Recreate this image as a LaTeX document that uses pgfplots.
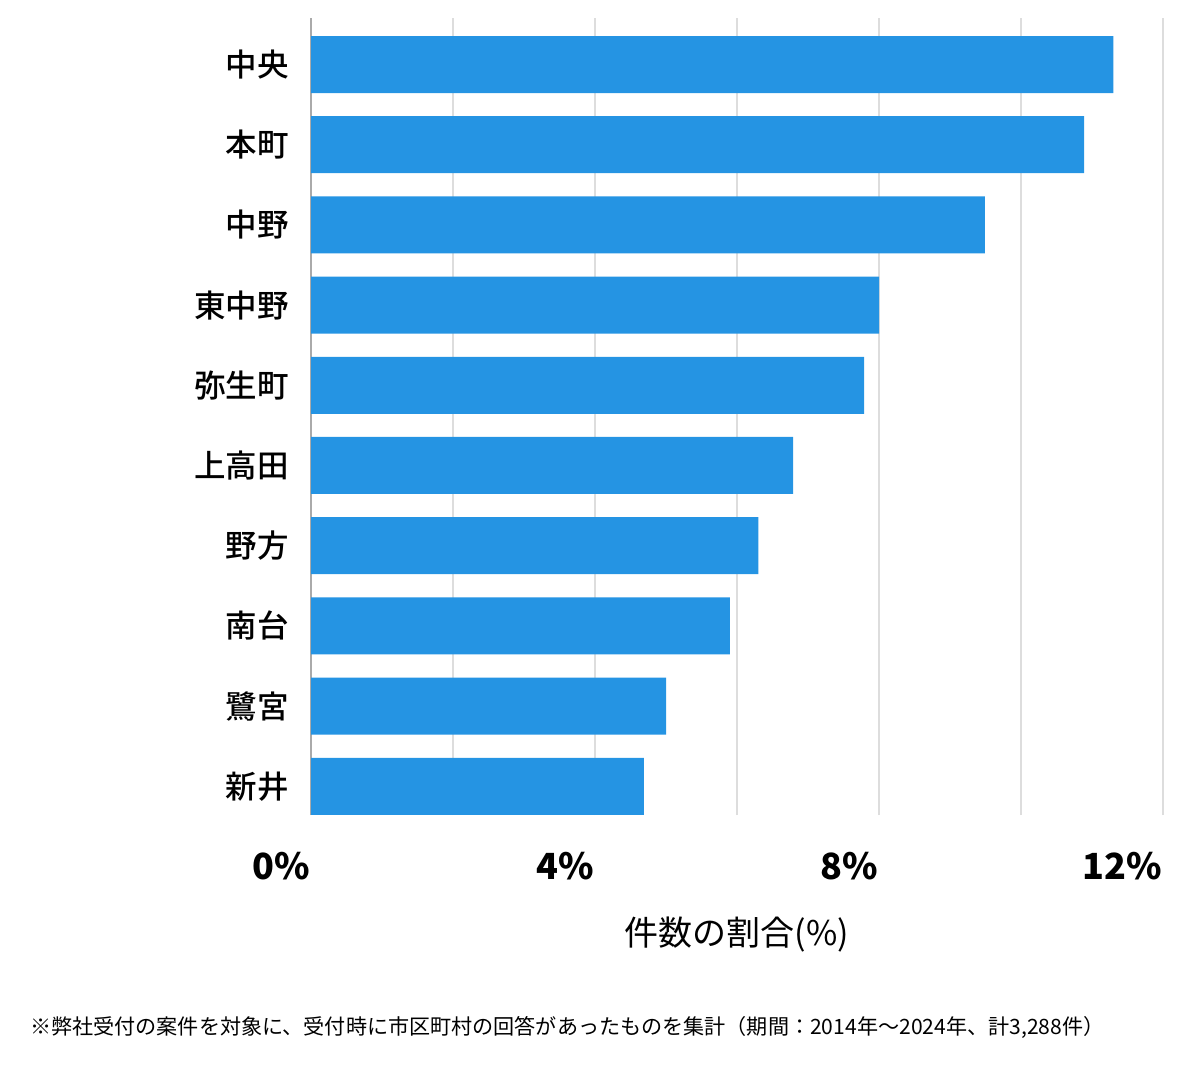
\documentclass[border=0pt]{standalone}
\usepackage{fontspec}
\setmainfont{Noto Sans CJK JP}
\newfontfamily\jpmed{Noto Sans CJK JP Medium}
\usepackage{pgfplots}
\pgfplotsset{compat=1.18}
\definecolor{barblue}{HTML}{2594E3}
\definecolor{gridgray}{HTML}{DDDDDD}
\definecolor{axisgray}{HTML}{AAAAAA}
\begin{document}
\begin{tikzpicture}
\path[use as bounding box] (0,0) rectangle (1200pt,1069pt);
\begin{axis}[
  at={(311pt,254pt)}, anchor=south west,
  scale only axis, width=852pt, height=797pt,
  xbar, bar width=57pt,
  xmin=0, xmax=12, ymin=-0.358, ymax=9.58,
  axis y line*=left, axis x line*=bottom,
  x axis line style={draw=none},
  y axis line style={draw=axisgray, line width=1.5pt},
  xmajorgrids, grid style={draw=gridgray, line width=1.2pt},
  major tick length=0pt,
  ytick={0,...,9},
  yticklabels={新井,鷺宮,南台,野方,上高田,弥生町,東中野,中野,本町,中央},
  yticklabel style={font=\jpmed\fontsize{31.5}{31.5}\selectfont, anchor=east, inner sep=0pt, xshift=-22pt},
  xtick={0,2,...,12},
  xticklabels={0\%,,4\%,,8\%,,12\%},
  xticklabel style={font=\bfseries\fontsize{36}{36}\selectfont, anchor=north east, inner sep=0pt, yshift=-37pt, xshift=-1pt},
  xlabel={件数の割合(\%)},
  xlabel style={font=\fontsize{34}{34}\selectfont, at={(axis description cs:0.5,0)}, anchor=center, yshift=-120pt},
]
\addplot[fill=barblue, draw=none] coordinates {
  (4.69,0) (5.00,1) (5.90,2) (6.30,3) (6.79,4) (7.79,5) (8.00,6) (9.49,7) (10.89,8) (11.30,9)
};
\end{axis}
\node[anchor=west, inner sep=0pt, font=\fontsize{21.1}{21.1}\selectfont] at (30pt,42pt) {※弊社受付の案件を対象に、受付時に市区町村の回答があったものを集計（期間：2014年～2024年、計3,288件）};
\end{tikzpicture}
\end{document}
